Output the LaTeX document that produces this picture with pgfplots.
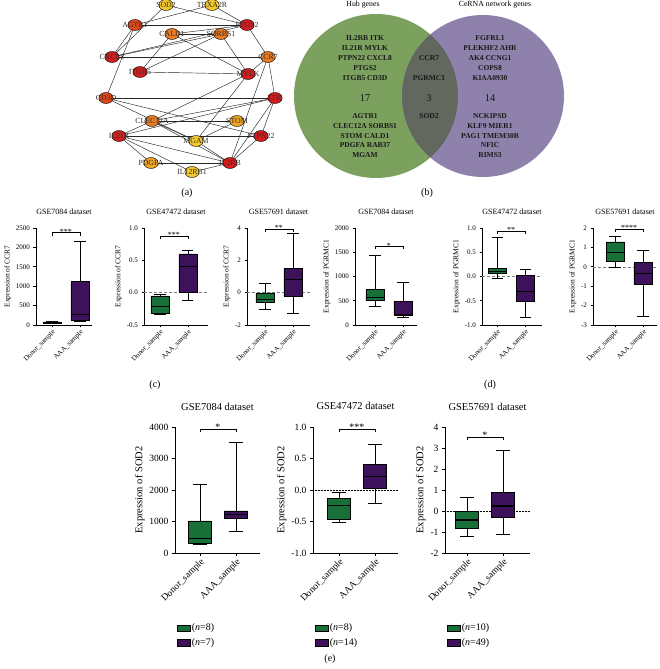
\documentclass[border=0pt]{standalone}
\usepackage{fontspec}
\setmainfont{Liberation Serif}
\usepackage{pgfplots}
\pgfplotsset{compat=1.18}

\definecolor{bgreen}{RGB}{24,112,56}
\definecolor{bpurple}{RGB}{62,18,90}
\definecolor{vgreen}{RGB}{124,160,94}
\definecolor{vpurple}{RGB}{142,130,172}
\definecolor{vmid}{RGB}{98,104,94}
\definecolor{nred}{RGB}{215,28,28}
\definecolor{norred}{RGB}{226,72,26}
\definecolor{norange}{RGB}{234,124,36}
\definecolor{nyorange}{RGB}{240,166,36}
\definecolor{nyellow}{RGB}{244,200,42}

% box at position 1: lw lq med uq uw colour
\newcommand{\bxA}[6]{%
\addplot[forget plot, black, line width=0.5pt] coordinates {(1,#1) (1,#5)};
\addplot[forget plot, black, line width=0.5pt] coordinates {(0.8,#5) (1.2,#5)};
\addplot[forget plot, black, line width=0.5pt] coordinates {(0.8,#1) (1.2,#1)};
\addplot[forget plot, fill=#6, draw=black, line width=0.5pt] coordinates {(0.675,#2) (1.325,#2) (1.325,#4) (0.675,#4) (0.675,#2)};
\addplot[forget plot, black, line width=1.1pt] coordinates {(0.675,#3) (1.325,#3)};}
% box at position 2
\newcommand{\bxB}[6]{%
\addplot[forget plot, black, line width=0.5pt] coordinates {(2,#1) (2,#5)};
\addplot[forget plot, black, line width=0.5pt] coordinates {(1.8,#5) (2.2,#5)};
\addplot[forget plot, black, line width=0.5pt] coordinates {(1.8,#1) (2.2,#1)};
\addplot[forget plot, fill=#6, draw=black, line width=0.5pt] coordinates {(1.675,#2) (2.325,#2) (2.325,#4) (1.675,#4) (1.675,#2)};
\addplot[forget plot, black, line width=1.1pt] coordinates {(1.675,#3) (2.325,#3)};}
% bracket: y, y-d, stars, font
\newcommand{\sig}[4]{\addplot[forget plot, black, line width=0.5pt] coordinates {(1,#2) (1,#1) (2,#1) (2,#2)};
  \node[anchor=base, inner sep=0pt, yshift=-1.8pt, font=#4] at (axis cs:1.5,#1) {#3};}
\newcommand{\zl}[3]{\addplot[forget plot, #3, line width=0.5pt] coordinates {(#1,0) (#2,0)};}
\newcommand{\edge}[4]{\addplot[black!85, line width=0.45pt] coordinates {(#1,#2) (#3,#4)};}

\pgfplotsset{
  gp/.style={
    scale only axis, axis lines=left, axis line style={-, line width=0.6pt},
    tick align=outside, major tick length=2.5pt, tick style={line width=0.6pt, black},
    xtick={1,2}, xticklabels={Donor\_sample,AAA\_sample},
    x tick label style={rotate=45, anchor=north east, inner sep=1pt},
    clip=false, enlargelimits=false, anchor=south west,
    yticklabel style={/pgf/number format/assume math mode=true, /pgf/number format/1000 sep={}},
  },
  gptop/.style={gp, height=97pt,
    title style={font=\fontsize{8}{9}\selectfont, at={(0.5,1)}, anchor=base, yshift=7pt},
    tick label style={font=\fontsize{7}{8}\selectfont},
    x tick label style={font=\fontsize{7}{8}\selectfont},
    ylabel style={font=\fontsize{7.5}{8}\selectfont, yshift=-2pt}},
  gpbot/.style={gp, width=85pt, height=126pt, major tick length=3pt,
    title style={font=\fontsize{10.5}{11}\selectfont, at={(0.5,1)}, anchor=base, yshift=11pt},
    tick label style={font=\fontsize{9.5}{10}\selectfont},
    x tick label style={font=\fontsize{9.5}{10}\selectfont},
    ylabel style={font=\fontsize{10.5}{11}\selectfont, yshift=-2pt},
    legend style={at={(0.02,-0.55)}, anchor=north west, draw=none, fill=none,
      font=\fontsize{10}{11}\selectfont, row sep=3pt, inner sep=0pt,
      nodes={inner sep=1.5pt}},
    legend cell align=left},
  decy/.style={yticklabel style={/pgf/number format/.cd, fixed, fixed zerofill, precision=1}},
}
\newcommand{\glg}[2]{\addlegendimage{legend image code/.code={\draw[fill=#1, draw=black, line width=0.5pt] (0pt,-3.3pt) rectangle (13pt,3.3pt);}}\addlegendentry{(\textit{n}=#2)}}

\begin{document}
\begin{tikzpicture}
\path[use as bounding box] (0,0) rectangle (660pt,669pt);
% Venn circles (page coordinates: x px, 669-y px)
\fill[vgreen] (376pt,573pt) circle[radius=82pt];
\fill[vpurple] (483pt,573pt) circle[radius=81pt];
\begin{scope}
\clip (376pt,573pt) circle[radius=82pt];
\fill[vmid] (483pt,573pt) circle[radius=81pt];
\end{scope}

% ---------- background axis in pixel coordinates ----------
\begin{axis}[at={(0,0)}, anchor=south west, scale only axis, width=660pt, height=669pt,
  xmin=0, xmax=660, ymin=0, ymax=669, y dir=reverse, hide axis, clip=false]
\node[font=\fontsize{7.8}{8}\selectfont, inner sep=0pt] at (axis cs:363,5) {Hub genes};
\node[font=\fontsize{7.8}{8}\selectfont, inner sep=0pt] at (axis cs:495,5) {CeRNA network genes};
\begin{scope}[every node/.style={font=\fontsize{7.5}{8}\selectfont\bfseries, text=black!90, inner sep=0pt}]
\node at (axis cs:365,38) {IL2RB ITK};
\node at (axis cs:365,48) {IL21R MYLK};
\node at (axis cs:365,58) {PTPN22 CXCL8};
\node at (axis cs:365,68) {PTGS2};
\node at (axis cs:365,78) {ITGB5 CD3D};
\node[font=\fontsize{10.5}{11}\selectfont] at (axis cs:365,98) {17};
\node at (axis cs:365,116) {AGTR1};
\node at (axis cs:365,126) {CLEC12A SORBS1};
\node at (axis cs:365,136) {STOM CALD1};
\node at (axis cs:365,145) {PDGFA RAB37};
\node at (axis cs:365,155) {MGAM};
\node at (axis cs:429,58) {CCR7};
\node at (axis cs:429,78) {PGRMC1};
\node[font=\fontsize{10.5}{11}\selectfont] at (axis cs:429,98) {3};
\node at (axis cs:429,116) {SOD2};
\node at (axis cs:490,38) {FGFRL1};
\node at (axis cs:490,48) {PLEKHF2 AHR};
\node at (axis cs:490,58) {AK4 CCNG1};
\node at (axis cs:490,68) {COPS8};
\node at (axis cs:490,78) {KIAA0930};
\node[font=\fontsize{10.5}{11}\selectfont] at (axis cs:490,98) {14};
\node at (axis cs:490,116) {NCKIPSD};
\node at (axis cs:490,126) {KLF9 MIER1};
\node at (axis cs:490,136) {PAG1 TMEM30B};
\node at (axis cs:490,145) {NFIC};
\node at (axis cs:490,155) {RIMS3};
\end{scope}
% Network edges
\edge{166}{5}{112}{57}
\edge{166}{5}{247}{25}
\edge{212}{5}{247}{25}
\edge{135}{25}{212}{5}
\edge{135}{25}{247}{25}
\edge{135}{25}{112}{57}
\edge{135}{25}{106}{98}
\edge{172}{34}{221}{34}
\edge{172}{34}{247}{25}
\edge{112}{57}{221}{34}
\edge{112}{57}{247}{25}
\edge{112}{57}{268}{57}
\edge{140}{72}{172}{34}
\edge{140}{72}{221}{34}
\edge{140}{72}{248}{74}
\edge{172}{34}{248}{74}
\edge{221}{34}{248}{74}
\edge{247}{25}{268}{57}
\edge{268}{57}{248}{74}
\edge{268}{57}{275}{98}
\edge{268}{57}{230}{163}
\edge{248}{74}{152}{121}
\edge{248}{74}{196}{141}
\edge{106}{98}{275}{98}
\edge{106}{98}{196}{141}
\edge{106}{98}{261}{136}
\edge{275}{98}{119}{136}
\edge{275}{98}{152}{121}
\edge{275}{98}{261}{136}
\edge{275}{98}{230}{163}
\edge{152}{121}{237}{121}
\edge{152}{121}{196}{141}
\edge{152}{121}{230}{163}
\edge{237}{121}{196}{141}
\edge{119}{136}{152}{121}
\edge{119}{136}{261}{136}
\edge{119}{136}{230}{163}
\edge{119}{136}{151}{163}
\edge{119}{136}{192}{172}
\edge{151}{163}{230}{163}
\edge{192}{172}{230}{163}
\edge{261}{136}{230}{163}
\edge{196}{141}{230}{163}
% Network nodes
\pgfplotsset{every node near coord/.append style={anchor=center, font=\fontsize{7.8}{8}\selectfont, text=black!82, inner sep=0pt}}
\addplot[only marks, mark=*, mark size=5.5pt, mark options={xscale=1.3, draw=none, fill=nred}, nodes near coords, point meta=explicit symbolic] table[meta=label] {
x y label
247 25 PTGS2
112 57 CXCL8
140 72 ITGB5
248 74 MYLK
275 98 ITK
119 136 IL21R
261 136 PTPN22
230 163 IL2RB
};
\addplot[only marks, mark=*, mark size=5.5pt, mark options={xscale=1.3, draw=none, fill=norred}, nodes near coords, point meta=explicit symbolic] table[meta=label] {
x y label
135 25 AGTR1
106 98 CD3D
};
\addplot[only marks, mark=*, mark size=5.5pt, mark options={xscale=1.3, draw=none, fill=norange}, nodes near coords, point meta=explicit symbolic] table[meta=label] {
x y label
172 34 CALD1
221 34 SORBS1
268 57 CCR7
152 121 CLEC12A
};
\addplot[only marks, mark=*, mark size=5.5pt, mark options={xscale=1.3, draw=none, fill=nyorange}, nodes near coords, point meta=explicit symbolic] table[meta=label] {
x y label
151 163 PDGFA
237 121 STOM
};
\addplot[only marks, mark=*, mark size=5.5pt, mark options={xscale=1.3, draw=none, fill=nyellow}, nodes near coords, point meta=explicit symbolic] table[meta=label] {
x y label
166 5 SOD2
212 5 TBXA2R
196 141 MGAM
192 172 IL12RB1
};
% panel labels
\begin{scope}[every node/.style={font=\fontsize{10}{11}\selectfont, inner sep=0pt}]
\node at (axis cs:187,193) {(a)};
\node at (axis cs:427,193) {(b)};
\node at (axis cs:155,385) {(c)};
\node at (axis cs:490,385) {(d)};
\node at (axis cs:330,659) {(e)};
\end{scope}
\end{axis}

% ---------- top row ----------
\begin{axis}[gptop, at={(36pt,344pt)}, width=56pt, xmin=0.43, xmax=2.43,
  ymin=0, ymax=2500, ytick={0,500,1000,1500,2000,2500}, title={GSE7084 dataset}, ylabel={Expression of CCR7}]
\bxA{40}{55}{65}{80}{90}{bgreen}
\bxB{100}{120}{280}{1120}{2150}{bpurple}
\sig{2380}{2303}{***}{\fontsize{8}{8}\selectfont}
\end{axis}

\begin{axis}[gptop, decy, at={(144pt,344pt)}, width=64pt, xmin=0.43, xmax=2.72,
  ymin=-0.5, ymax=1, ytick={-0.5,0,0.5,1}, title={GSE47472 dataset}, ylabel={Expression of CCR7}]
\zl{0.43}{2.72}{gray, densely dashed}
\bxA{-0.33}{-0.32}{-0.22}{-0.05}{-0.02}{bgreen}
\bxB{-0.12}{0.0}{0.41}{0.60}{0.66}{bpurple}
\sig{0.88}{0.834}{***}{\fontsize{8}{8}\selectfont}
\end{axis}

\begin{axis}[gptop, at={(247pt,344pt)}, width=63pt, xmin=0.36, xmax=2.61,
  ymin=-2, ymax=4, ytick={-2,0,2,4}, title={GSE57691 dataset}, ylabel={Expression of CCR7}]
\zl{0.36}{2.61}{gray, densely dashed}
\bxA{-1.0}{-0.62}{-0.4}{-0.02}{0.6}{bgreen}
\bxB{-1.25}{-0.2}{0.82}{1.52}{3.65}{bpurple}
\sig{3.95}{3.76}{**}{\fontsize{8}{8}\selectfont}
\end{axis}

\begin{axis}[gptop, at={(355pt,344pt)}, width=62pt, xmin=0.29, xmax=2.50,
  ymin=0, ymax=2000, ytick={0,500,1000,1500,2000}, title={GSE7084 dataset}, ylabel={Expression of PGRMC1}]
\bxA{380}{500}{560}{730}{1440}{bgreen}
\bxB{170}{200}{215}{490}{880}{bpurple}
\sig{1620}{1558}{*}{\fontsize{8}{8}\selectfont}
\end{axis}

\begin{axis}[gptop, decy, at={(482pt,344pt)}, width=60pt, xmin=0.46, xmax=2.60,
  ymin=-1, ymax=1, ytick={-1,-0.5,0,0.5,1}, title={GSE47472 dataset}, ylabel={Expression of PGRMC1}]
\zl{0.46}{2.60}{gray, densely dashed}
\bxA{-0.03}{0.06}{0.11}{0.17}{0.80}{bgreen}
\bxB{-0.83}{-0.52}{-0.31}{0.02}{0.14}{bpurple}
\sig{0.94}{0.878}{**}{\fontsize{8}{8}\selectfont}
\end{axis}

\begin{axis}[gptop, at={(593pt,344pt)}, width=64pt, xmin=0.21, xmax=2.50,
  ymin=-3, ymax=2, ytick={-3,-2,-1,0,1,2}, title={GSE57691 dataset}, ylabel={Expression of PGRMC1}]
\zl{0.21}{2.50}{gray, densely dashed}
\bxA{0.0}{0.3}{0.75}{1.28}{1.55}{bgreen}
\bxB{-2.55}{-0.88}{-0.35}{0.22}{0.85}{bpurple}
\sig{1.95}{1.795}{****}{\fontsize{8}{8}\selectfont}
\end{axis}

% ---------- bottom row ----------
\begin{axis}[gpbot, at={(175pt,116pt)}, xmin=0.31, xmax=2.67,
  ymin=0, ymax=4000, ytick={0,1000,2000,3000,4000}, title={GSE7084 dataset}, ylabel={Expression of SOD2}]
\bxA{285}{320}{450}{1020}{2170}{bgreen}
\bxB{680}{1105}{1220}{1340}{3520}{bpurple}
\sig{3940}{3845}{*}{\fontsize{10}{10}\selectfont}
\glg{bgreen}{8}
\glg{bpurple}{7}
\end{axis}

\begin{axis}[gpbot, decy, at={(313pt,116pt)}, xmin=0.28, xmax=2.64,
  ymin=-1, ymax=1, ytick={-1,-0.5,0,0.5,1}, title={GSE47472 dataset}, ylabel={Expression of SOD2}]
\zl{0.28}{2.64}{black, densely dotted}
\bxA{-0.51}{-0.46}{-0.25}{-0.13}{-0.03}{bgreen}
\bxB{-0.21}{0.03}{0.22}{0.41}{0.73}{bpurple}
\sig{0.97}{0.922}{***}{\fontsize{10}{10}\selectfont}
\glg{bgreen}{8}
\glg{bpurple}{14}
\end{axis}

\begin{axis}[gpbot, at={(445pt,116pt)}, xmin=0.39, xmax=2.75,
  ymin=-2, ymax=4, ytick={-2,-1,0,1,2,3,4}, title={GSE57691 dataset}, ylabel={Expression of SOD2}]
\zl{0.39}{2.75}{black, densely dotted}
\bxA{-1.2}{-0.81}{-0.43}{0.0}{0.67}{bgreen}
\bxB{-1.1}{-0.3}{0.24}{0.9}{2.9}{bpurple}
\sig{3.52}{3.377}{*}{\fontsize{10}{10}\selectfont}
\glg{bgreen}{10}
\glg{bpurple}{49}
\end{axis}
\end{tikzpicture}
\end{document}
